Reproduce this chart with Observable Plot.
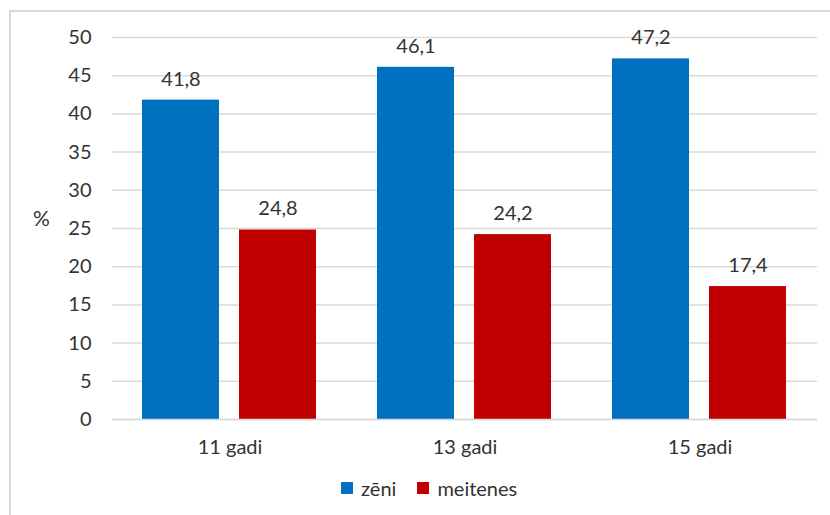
<!DOCTYPE html>
<html>
<head>
<meta charset="utf-8">
<script src="https://cdn.jsdelivr.net/npm/d3@7"></script>
<script src="https://cdn.jsdelivr.net/npm/@observablehq/plot@0.6"></script>
<style>
  html, body { margin: 0; padding: 0; background: #fff; }
  #frame {
    position: relative; width: 830px; height: 515px; overflow: hidden;
    font-family: Lato, "Open Sans", sans-serif; color: #333;
  }
  #border {
    position: absolute; left: 9px; top: 10px; width: 900px; height: 600px;
    border-left: 2px solid #d9d9d9; border-top: 2px solid #d9d9d9; box-sizing: border-box;
  }
  #chart { position: absolute; left: 0; top: 0; }
  #unit { position: absolute; left: 33px; top: 205px; font-size: 21px; }
  #legend {
    position: absolute; left: 341px; top: 476px; display: flex; align-items: center;
    font-size: 20px; white-space: nowrap;
  }
  #legend .item { display: flex; align-items: center; margin-right: 21px; }
  #legend .sw { width: 12px; height: 12px; margin-right: 8px; }
</style>
</head>
<body>
<div id="frame">
  <div id="border"></div>
  <div id="chart"></div>
  <div id="unit">%</div>
  <div id="legend"></div>
</div>
<script>
// Age groups and shares (%) of boys and girls
const ages = ["11 gadi", "13 gadi", "15 gadi"];
const series = ["zēni", "meitenes"];
const zeni = [41.8, 46.1, 47.2];
const meitenes = [24.8, 24.2, 17.4];
const colors = ["#0070C0", "#C00000"];
const yTicks = [0, 5, 10, 15, 20, 25, 30, 35, 40, 45, 50];

const rows = ages.flatMap((age, i) => [
  {age, sex: series[0], value: zeni[i]},
  {age, sex: series[1], value: meitenes[i]}
]);

const fmt = d => d.value.toFixed(1).replace(".", ",");

const chart = Plot.plot({
  width: 830,
  height: 470,
  marginLeft: 111,
  marginRight: 12,
  marginTop: 37,
  marginBottom: 51,
  style: {fontFamily: "Lato, 'Open Sans', sans-serif", fontSize: "20px", color: "#333", background: "transparent"},
  y: {domain: [0, 50]},
  fx: {domain: ages, padding: 0, label: null},
  x: {domain: series, paddingInner: 0.204, paddingOuter: 0.3045, axis: null},
  color: {domain: series, range: colors},
  marks: [
    Plot.gridY(yTicks, {stroke: "#d9d9d9", strokeOpacity: 1, strokeWidth: 1.5}),
    Plot.axisY(yTicks, {tickSize: 0, tickPadding: 21, label: null}),
    Plot.axisFx({tickSize: 0, tickPadding: 20, label: null, anchor: "bottom"}),
    Plot.barY(rows, {fx: "age", x: "sex", y: "value", fill: "sex"}),
    Plot.text(rows, {fx: "age", x: "sex", y: "value", text: fmt, dy: -21, fill: "#333"}),
    Plot.ruleY([0], {stroke: "#d9d9d9", strokeWidth: 1.5})
  ]
});
document.getElementById("chart").appendChild(chart);

const legend = document.getElementById("legend");
series.forEach((s, i) => {
  const item = document.createElement("div");
  item.className = "item";
  const sw = document.createElement("span");
  sw.className = "sw";
  sw.style.background = colors[i];
  const label = document.createElement("span");
  label.textContent = s;
  item.append(sw, label);
  legend.appendChild(item);
});
</script>
</body>
</html>
